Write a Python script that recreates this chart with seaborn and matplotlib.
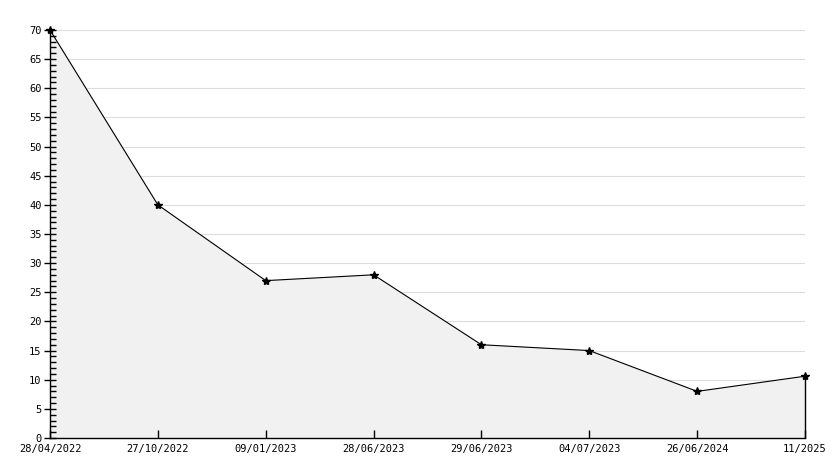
import numpy as np
import pandas as pd
import seaborn as sns
import matplotlib.pyplot as plt
from matplotlib.ticker import MultipleLocator

dates = ["28/04/2022", "27/10/2022", "09/01/2023", "28/06/2023",
         "29/06/2023", "04/07/2023", "26/06/2024", "11/2025"]
values = [70, 40, 27, 28, 16, 15, 8, 10.6]

df = pd.DataFrame({"pos": range(len(dates)), "date": dates, "value": values})

sns.set_style("white")
plt.rcParams['font.family'] = ['DejaVu Sans Mono']

fig = plt.figure(figsize=(8.34, 4.68), dpi=100)
ax = fig.add_axes([50 / 834, 1 - 438 / 468, 755 / 834, 408 / 468])
ax.set_axisbelow(False)

ax.set_xlim(0, len(dates) - 1)
ax.set_ylim(0, 70)
ax.yaxis.set_major_locator(MultipleLocator(5))
ax.yaxis.set_minor_locator(MultipleLocator(1))

# grid sits under the grey area, ticks on top of it
for yv in ax.get_yticks()[1:]:
    ax.axhline(yv, color="#dddddd", linewidth=0.8, zorder=0)

ax.fill_between(df["pos"], df["value"], 0, color="#f1f1f1", zorder=1)
sns.lineplot(data=df, x="pos", y="value", ax=ax, color="black", linewidth=0.8,
             marker="*", markersize=6, markeredgecolor="black", markeredgewidth=1,
             zorder=4, clip_on=False)
ax.vlines(df["pos"].iloc[-1], 0, df["value"].iloc[-1], color="black", linewidth=1,
          zorder=4, clip_on=False)

ax.set_xticks(df["pos"])
ax.set_xticklabels(dates)
ax.grid(False)

for s in ["top", "right"]:
    ax.spines[s].set_visible(False)
for s in ["left", "bottom"]:
    ax.spines[s].set_color("black")
    ax.spines[s].set_linewidth(1.0)

ax.tick_params(axis="y", which="major", left=True, direction="inout", length=8, width=1,
               labelsize=7.5, pad=2, color="black", labelcolor="black")
ax.tick_params(axis="y", which="minor", left=True, direction="in", length=4, width=1, color="black")
ax.tick_params(axis="x", which="major", bottom=True, direction="in", length=6, width=1,
               labelsize=7.5, pad=4, color="black", labelcolor="black")
ax.set_xlabel("")
ax.set_ylabel("")

fig.savefig("out.png", dpi=100)
